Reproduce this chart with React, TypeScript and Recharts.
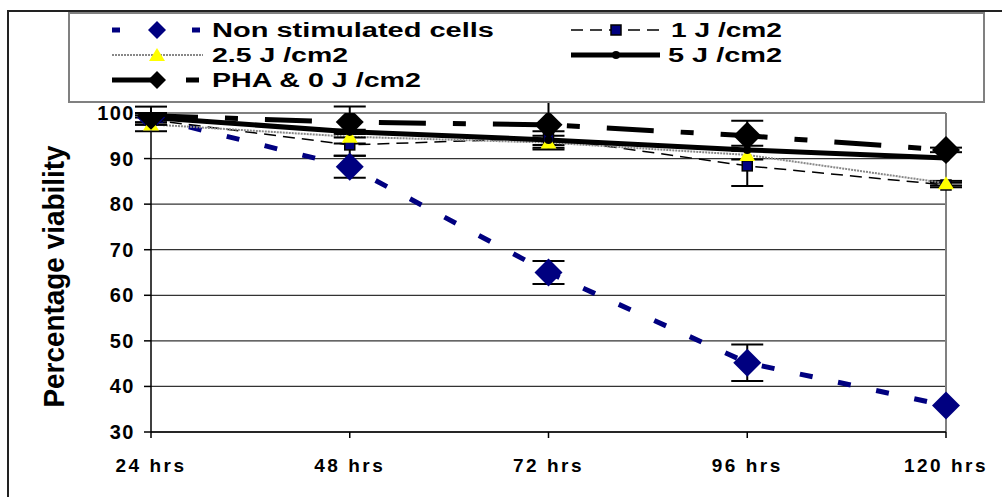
import * as React from "react";
import {
  LineChart,
  Line,
  XAxis,
  YAxis,
  CartesianGrid,
  ErrorBar,
  Legend,
  ReferenceLine,
} from "recharts";

const categories = ["24 hrs", "48 hrs", "72 hrs", "96 hrs", "120 hrs"];
const yTicks = [30, 40, 50, 60, 70, 80, 90, 100];

const nonStimulated = [99, 88.2, 65, 45.2, 35.8];
const nonStimulatedErr = [1, 2.4, 2.5, 4, 0];
const oneJ = [98.5, 93, 94.5, 88.4, 84.2];
const oneJErr = [1, 2.4, 1.5, 4.4, 0.5];
const twoFiveJ = [97.5, 94.8, 93.5, 90.8, 84.6];
const twoFiveJErr = [1.5, 1.5, 1.5, 1, 0.5];
const fiveJ = [99, 95.9, 94.1, 91.9, 90.1];
const pha = [99.4, 98, 97.4, 95, 91.9];
const phaErr = [2, 3.4, 5, 3.3, 0.5];

const data = categories.map((name, i) => ({
  name,
  nonStim: nonStimulated[i],
  nonStimErr: nonStimulatedErr[i],
  oneJ: oneJ[i],
  oneJErr: oneJErr[i],
  twoFiveJ: twoFiveJ[i],
  twoFiveJErr: twoFiveJErr[i],
  fiveJ: fiveJ[i],
  pha: pha[i],
  phaErr: phaErr[i],
}));

const FONT = '"Liberation Sans", Arial, sans-serif';

// marker shapes
const diamond = (cx: number, cy: number, r: number, fill: string) => (
  <polygon
    points={`${cx},${cy - r} ${cx + r},${cy} ${cx},${cy + r} ${cx - r},${cy}`}
    fill={fill}
  />
);
const triangle = (cx: number, cy: number, fill: string) => (
  <polygon points={`${cx},${cy - 7} ${cx + 8},${cy + 6} ${cx - 8},${cy + 6}`} fill={fill} />
);
const square = (cx: number, cy: number) => (
  <rect x={cx - 5} y={cy - 5} width={10} height={10} fill="#000080" stroke="#000" strokeWidth={1.5} />
);
const circle = (cx: number, cy: number) => <circle cx={cx} cy={cy} r={4} fill="#000" />;

const dotFn = (kind: string) => (p: any) => {
  const { cx, cy, index } = p;
  let el: React.ReactNode = null;
  if (kind === "navyDiamond") el = diamond(cx, cy, 14, "#000080");
  if (kind === "blackDiamond") el = diamond(cx, cy, 14, "#000");
  if (kind === "triangle") el = triangle(cx, cy, "#ffff00");
  if (kind === "square") el = square(cx, cy);
  if (kind === "circle") el = circle(cx, cy);
  return <g key={`${kind}-${index}`}>{el}</g>;
};

const XTick = (p: any) => (
  <text
    x={p.x}
    y={p.y + 32}
    textAnchor="middle"
    fontFamily={FONT}
    fontWeight="bold"
    fontSize={19}
    letterSpacing={2.5}
    fill="#000"
  >
    {p.payload.value}
  </text>
);

const YTick = (p: any) => (
  <text
    x={p.x - 3}
    y={p.y + 7}
    textAnchor="end"
    fontFamily={FONT}
    fontWeight="bold"
    fontSize={20}
    letterSpacing={1.5}
    fill="#000"
  >
    {p.payload.value}
  </text>
);

const legendText = (x: number, y: number, s: string, len: number) => (
  <text
    x={x}
    y={y}
    fontFamily={FONT}
    fontWeight="bold"
    fontSize={20}
    textLength={len}
    lengthAdjust="spacingAndGlyphs"
    fill="#000"
  >
    {s}
  </text>
);

const LegendBox = () => (
  <svg width={917} height={91} style={{ display: "block" }}>
    <rect x={1} y={1} width={915} height={89} fill="#fff" stroke="#808080" strokeWidth={2} />
    {/* Non stimulated cells */}
    <line x1={44} y1={18} x2={135} y2={18} stroke="#000080" strokeWidth={5} strokeDasharray="8 32" />
    {diamond(89, 18, 9, "#000080")}
    {legendText(144, 25, "Non stimulated cells", 282)}
    {/* 1 J */}
    <line x1={503} y1={18} x2={592} y2={18} stroke="#000" strokeWidth={1.5} strokeDasharray="12 7" />
    {square(548, 18)}
    {legendText(603, 25, "1 J /cm2", 111)}
    {/* 2.5 J */}
    <line x1={44} y1={43} x2={135} y2={43} stroke="#888" strokeWidth={2} strokeDasharray="2 1" />
    {triangle(89, 43, "#ffff00")}
    {legendText(144, 50, "2.5 J /cm2", 136)}
    {/* 5 J */}
    <line x1={503} y1={43} x2={592} y2={43} stroke="#000" strokeWidth={5} />
    {circle(548, 43)}
    {legendText(600, 50, "5 J /cm2", 114)}
    {/* PHA */}
    <line x1={44} y1={68} x2={135} y2={68} stroke="#000" strokeWidth={5} strokeDasharray="47 27 13 27" />
    {diamond(89, 68, 9, "#000")}
    {legendText(144, 75, "PHA & 0 J /cm2", 209)}
  </svg>
);

export default function App() {
  return (
    <div style={{ position: "absolute", left: 0, top: 0, width: 1002, height: 497, background: "#fff" }}>
      {/* outer chart area frame */}
      <div
        style={{
          position: "absolute",
          left: 7,
          top: 10,
          width: 1002,
          height: 497,
          borderLeft: "2px solid #222",
          borderTop: "2px solid #222",
        }}
      />
      <LineChart
        width={1002}
        height={497}
        data={data}
        margin={{ top: 113, right: 56, bottom: 0, left: 0 }}
        style={{ position: "absolute", left: 0, top: 0 }}
      >
        <CartesianGrid vertical={false} stroke="#333" strokeWidth={1.2} />
        <ReferenceLine y={100} stroke="#808080" strokeWidth={2} />
        <ReferenceLine x="120 hrs" stroke="#808080" strokeWidth={2} />
        <XAxis
          dataKey="name"
          height={65}
          tick={<XTick />}
          tickSize={6}
          stroke="#000"
          strokeWidth={1.5}
          interval={0}
        />
        <YAxis
          width={151}
          domain={[30, 100]}
          ticks={yTicks}
          allowDataOverflow
          tick={<YTick />}
          tickSize={7}
          tickMargin={6}
          stroke="#000"
          strokeWidth={1.5}
          label={{
            content: (p: any) => {
              const vb = p.viewBox || { y: 113, height: 319 };
              const cy = vb.y + vb.height / 2 + 4;
              return (
                <text
                  x={64}
                  y={cy}
                  transform={`rotate(-90 64 ${cy})`}
                  textAnchor="middle"
                  fontFamily={FONT}
                  fontWeight="bold"
                  fontSize={29}
                  textLength={262}
                  lengthAdjust="spacingAndGlyphs"
                  fill="#000"
                >
                  Percentage viability
                </text>
              );
            },
          }}
        />
        <Legend
          layout="horizontal"
          verticalAlign="middle"
          align="center"
          content={() => <LegendBox />}
          wrapperStyle={{ left: 68, top: 12, width: 917, height: 91 }}
        />
        <Line
          dataKey="nonStim"
          stroke="#000080"
          strokeWidth={5}
          strokeDasharray="13 26"
          dot={dotFn("navyDiamond")}
          isAnimationActive={false}
        >
          <ErrorBar dataKey="nonStimErr" width={16} stroke="#000" strokeWidth={2} direction="y" />
        </Line>
        <Line
          dataKey="oneJ"
          stroke="#000"
          strokeWidth={1.5}
          strokeDasharray="12 7"
          dot={dotFn("square")}
          isAnimationActive={false}
        >
          <ErrorBar dataKey="oneJErr" width={16} stroke="#000" strokeWidth={2} direction="y" />
        </Line>
        <Line
          dataKey="twoFiveJ"
          stroke="#888"
          strokeWidth={2}
          strokeDasharray="2 1"
          dot={dotFn("triangle")}
          isAnimationActive={false}
        >
          <ErrorBar dataKey="twoFiveJErr" width={16} stroke="#000" strokeWidth={2} direction="y" />
        </Line>
        <Line
          dataKey="fiveJ"
          stroke="#000"
          strokeWidth={5}
          dot={dotFn("circle")}
          isAnimationActive={false}
        />
        <Line
          dataKey="pha"
          stroke="#000"
          strokeWidth={5}
          strokeDasharray="47 27 13 27"
          dot={dotFn("blackDiamond")}
          isAnimationActive={false}
        >
          <ErrorBar dataKey="phaErr" width={16} stroke="#000" strokeWidth={2} direction="y" />
        </Line>
      </LineChart>
    </div>
  );
}
